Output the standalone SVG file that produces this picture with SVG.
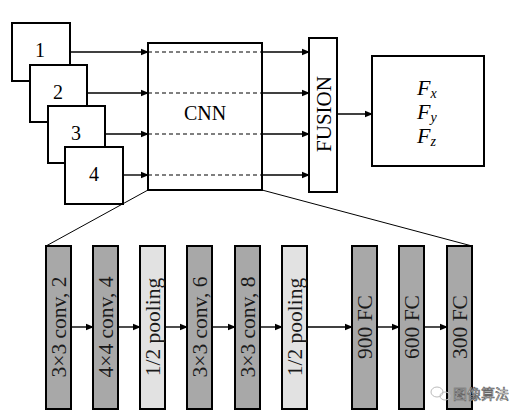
<svg xmlns="http://www.w3.org/2000/svg" width="518" height="417" viewBox="0 0 518 417">
<defs>
<marker id="ah" markerWidth="8" markerHeight="8" refX="7" refY="4" orient="auto" markerUnits="userSpaceOnUse">
<path d="M0,0.8 L8,4 L0,7.2 Z" fill="#000"/>
</marker>
<style>
.box{fill:#fff;stroke:#000;stroke-width:2}
.dark{fill:#a8a8a8;stroke:#000;stroke-width:2}
.light{fill:#e2e2e2;stroke:#000;stroke-width:2}
.t{font-family:"Liberation Serif",serif;font-size:20px;fill:#000;text-anchor:middle}
.bt{font-family:"Liberation Serif",serif;font-size:21.5px;fill:#1a1a1a;text-anchor:middle;dominant-baseline:central}
.f{font-family:"Liberation Serif",serif;font-style:italic;font-size:22px;fill:#000}
.sub{font-size:14px}
.ar{stroke:#000;stroke-width:1.4;fill:none;marker-end:url(#ah)}
.ds{stroke:#000;stroke-width:1.2;stroke-dasharray:4,3;fill:none}
.ln{stroke:#000;stroke-width:1;fill:none}
</style>
</defs>
<rect width="518" height="417" fill="#fff"/>
<g id="input1"><rect class="box" x="12" y="23" width="58" height="58"/><text class="t" x="40" y="57">1</text></g>
<g id="input2"><rect class="box" x="30" y="65" width="57" height="57"/><text class="t" x="58" y="99">2</text></g>
<g id="input3"><rect class="box" x="48" y="106" width="57" height="57"/><text class="t" x="76" y="140">3</text></g>
<g id="input4"><rect class="box" x="65" y="147" width="58" height="57"/><text class="t" x="94" y="181">4</text></g>
<g id="cnn"><rect class="box" x="148" y="43" width="114" height="147"/>
<line class="ds" x1="148" y1="52" x2="262" y2="52"/>
<line class="ds" x1="148" y1="93" x2="262" y2="93"/>
<line class="ds" x1="148" y1="134" x2="262" y2="134"/>
<line class="ds" x1="148" y1="175" x2="262" y2="175"/>
<text class="t" x="205" y="120">CNN</text></g>
<g id="fusion"><rect class="box" x="309" y="38" width="28" height="154"/><text class="t" style="font-size:21px" transform="translate(323,114) rotate(-90)" y="7.5">FUSION</text></g>
<g id="output"><rect class="box" x="372" y="56" width="112" height="110"/>
<text class="f" x="417" y="95">F<tspan class="sub" dy="3">x</tspan></text>
<text class="f" x="417" y="119">F<tspan class="sub" dy="3">y</tspan></text>
<text class="f" x="417" y="143">F<tspan class="sub" dy="3">z</tspan></text></g>
<g id="l1"><rect class="dark" x="46" y="246" width="25" height="163"/><text class="bt" transform="translate(58.5,327) rotate(-90)">3×3 conv, 2</text></g>
<g id="l2"><rect class="dark" x="93" y="246" width="25" height="163"/><text class="bt" transform="translate(105.5,327) rotate(-90)">4×4 conv, 4</text></g>
<g id="l3"><rect class="light" x="140" y="246" width="25" height="163"/><text class="bt" transform="translate(152.5,327) rotate(-90)">1/2 pooling</text></g>
<g id="l4"><rect class="dark" x="187" y="246" width="25" height="163"/><text class="bt" transform="translate(199.5,327) rotate(-90)">3×3 conv, 6</text></g>
<g id="l5"><rect class="dark" x="235" y="246" width="25" height="163"/><text class="bt" transform="translate(247.5,327) rotate(-90)">3×3 conv, 8</text></g>
<g id="l6"><rect class="light" x="282" y="246" width="25" height="163"/><text class="bt" transform="translate(294.5,327) rotate(-90)">1/2 pooling</text></g>
<g id="l7"><rect class="dark" x="352" y="246" width="25" height="163"/><text class="bt" transform="translate(364.5,327) rotate(-90)">900 FC</text></g>
<g id="l8"><rect class="dark" x="399" y="246" width="25" height="163"/><text class="bt" transform="translate(411.5,327) rotate(-90)">600 FC</text></g>
<g id="l9"><rect class="dark" x="447" y="246" width="25" height="163"/><text class="bt" transform="translate(459.5,327) rotate(-90)">300 FC</text></g>
<g id="connectors">
<line class="ar" x1="70" y1="52" x2="148" y2="52"/>
<line class="ar" x1="87" y1="93" x2="148" y2="93"/>
<line class="ar" x1="105" y1="134" x2="148" y2="134"/>
<line class="ar" x1="123" y1="175" x2="148" y2="175"/>
<line class="ar" x1="262" y1="52" x2="309" y2="52"/>
<line class="ar" x1="262" y1="93" x2="309" y2="93"/>
<line class="ar" x1="262" y1="134" x2="309" y2="134"/>
<line class="ar" x1="262" y1="175" x2="309" y2="175"/>
<line class="ar" x1="337" y1="114" x2="372" y2="114"/>
<line class="ln" x1="148" y1="190" x2="46" y2="246"/>
<line class="ln" x1="262" y1="190" x2="472" y2="246"/>
<line class="ar" x1="71" y1="327" x2="93" y2="327"/>
<line class="ar" x1="118" y1="327" x2="140" y2="327"/>
<line class="ar" x1="165" y1="327" x2="187" y2="327"/>
<line class="ar" x1="212" y1="327" x2="235" y2="327"/>
<line class="ar" x1="260" y1="327" x2="282" y2="327"/>
<line class="ar" x1="307" y1="327" x2="352" y2="327"/>
<line class="ar" x1="377" y1="327" x2="399" y2="327"/>
<line class="ar" x1="424" y1="327" x2="447" y2="327"/>
</g>
<g id="watermark">
<ellipse cx="437" cy="392" rx="6" ry="5" fill="none" stroke="#bbb" stroke-width="1"/>
<ellipse cx="445" cy="396" rx="5" ry="4" fill="none" stroke="#bbb" stroke-width="1"/>
<text x="453" y="399" font-family="'Noto Sans CJK SC',sans-serif" font-size="14" fill="#fff" stroke="#666" stroke-width="0.7">图像算法</text>
</g>
</svg>
